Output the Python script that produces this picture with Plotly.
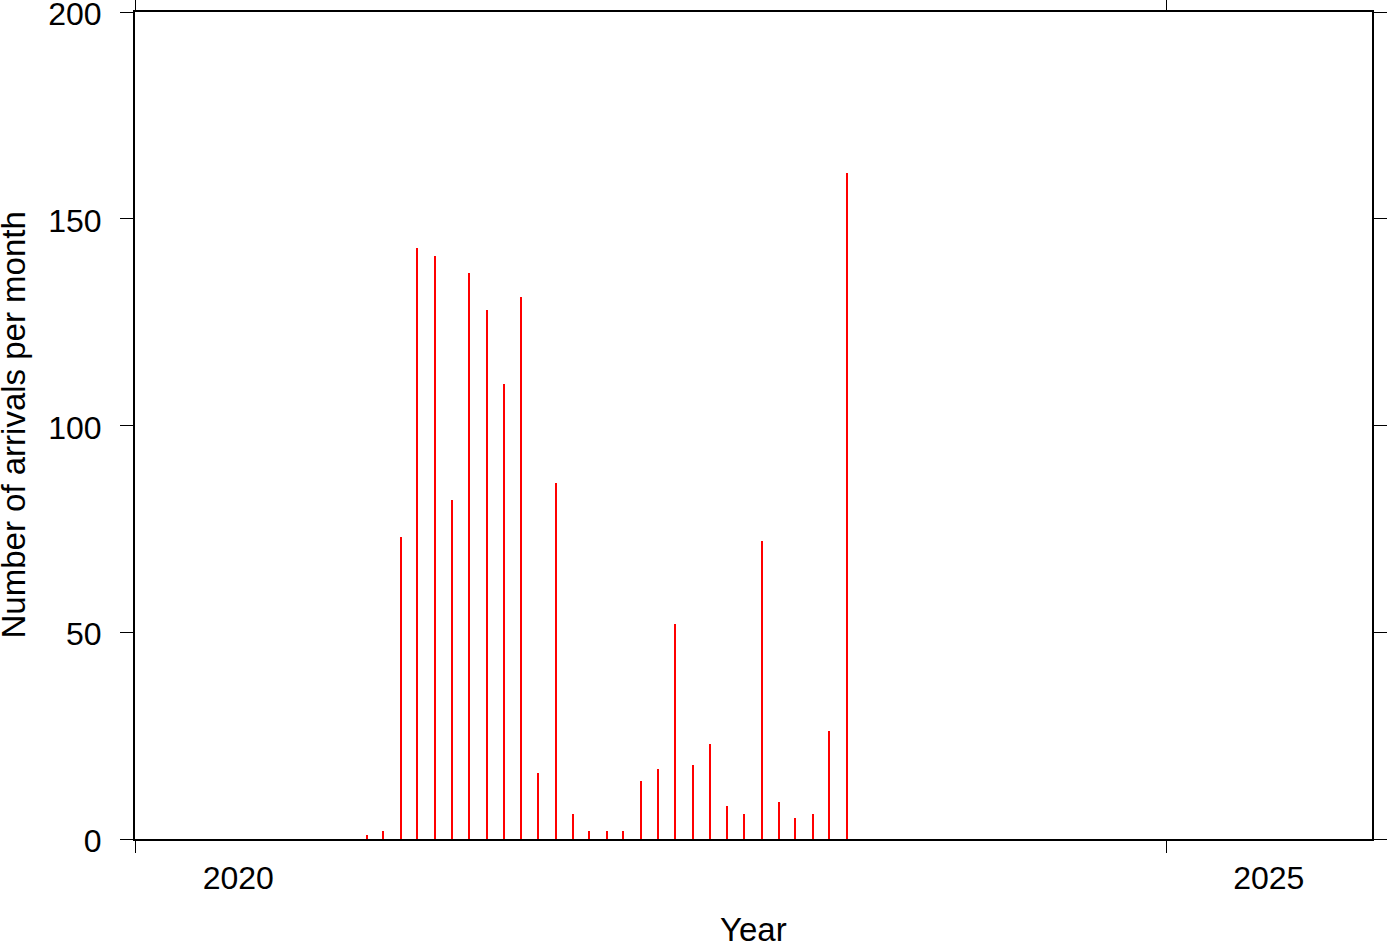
import plotly.graph_objects as go

months = ["2021-02", "2021-03", "2021-04", "2021-05", "2021-06", "2021-07",
          "2021-08", "2021-09", "2021-10", "2021-11", "2021-12", "2022-01",
          "2022-02", "2022-03", "2022-04", "2022-05", "2022-06", "2022-07",
          "2022-08", "2022-09", "2022-10", "2022-11", "2022-12", "2023-01",
          "2023-02", "2023-03", "2023-04", "2023-05", "2023-06"]
arrivals = [1, 2, 73, 143, 141, 82, 137, 128, 110, 131, 16, 86,
            6, 2, 2, 2, 14, 17, 52, 18, 23, 8, 6, 72,
            9, 5, 6, 26, 161]
year_ticks = ["2020-01-01", "2025-01-01"]
year_label_pos = ["2020-07-02", "2025-07-02"]
year_labels = ["2020", "2025"]
y_ticks = [0, 50, 100, 150, 200]
x_title = "Year"
y_title = "Number of arrivals per month"

x_dates = [m + "-16" for m in months]
bar_width_ms = 2.6 * 24 * 3600 * 1000

FONT = "Liberation Sans, Arial, Helvetica, sans-serif"

fig = go.Figure()
fig.add_trace(go.Bar(x=x_dates, y=arrivals, width=bar_width_ms,
                     marker=dict(color="#ff0000", line=dict(width=0)),
                     showlegend=False, hoverinfo="x+y"))
fig.add_trace(go.Scatter(x=[year_label_pos[0]], y=[0], xaxis="x2", yaxis="y",
                         mode="markers", marker=dict(opacity=0),
                         showlegend=False, hoverinfo="skip"))

xrange = ["2020-01-01", "2026-01-01"]
fig.update_layout(
    width=1387, height=942,
    margin=dict(l=135, r=15, t=12, b=103),
    paper_bgcolor="white", plot_bgcolor="white",
    font=dict(family=FONT, size=32, color="black"),
    bargap=0,
    xaxis=dict(
        type="date", range=xrange, automargin=False,
        tickmode="array", tickvals=year_ticks, showticklabels=False,
        ticks="outside", ticklen=12, tickwidth=1, tickcolor="black",
        showline=True, linewidth=2, linecolor="black", mirror="allticks",
        showgrid=False, zeroline=False,
    ),
    xaxis2=dict(
        type="date", range=xrange, overlaying="x", matches="x", anchor="y",
        side="bottom", automargin=False,
        tickmode="array", tickvals=year_label_pos, ticktext=year_labels,
        ticks="", showline=False, showgrid=False, zeroline=False,
        tickfont=dict(size=32), ticklabelstandoff=17,
    ),
    yaxis=dict(
        range=[0, 200], tickmode="array", tickvals=y_ticks, automargin=False,
        ticks="outside", ticklen=13, tickwidth=1, tickcolor="black",
        showline=True, linewidth=2, linecolor="black", mirror="allticks",
        showgrid=False, zeroline=False, tickfont=dict(size=32),
        ticklabelstandoff=12, ticklabeloverflow="allow", ticklabelshift=2,
    ),
    annotations=[
        dict(text=x_title, xref="paper", yref="paper", x=0.5, y=0,
             xanchor="center", yanchor="middle", yshift=-90,
             showarrow=False, font=dict(size=33)),
        dict(text=y_title, xref="paper", yref="paper", x=0, y=0.5,
             xanchor="center", yanchor="middle", xshift=-122, textangle=-90,
             showarrow=False, font=dict(size=33)),
    ],
)

fig.write_html("out.html",
               config={"displayModeBar": False},
               post_script="document.body.style.margin='0';"
                           "document.body.style.overflow='hidden';")
